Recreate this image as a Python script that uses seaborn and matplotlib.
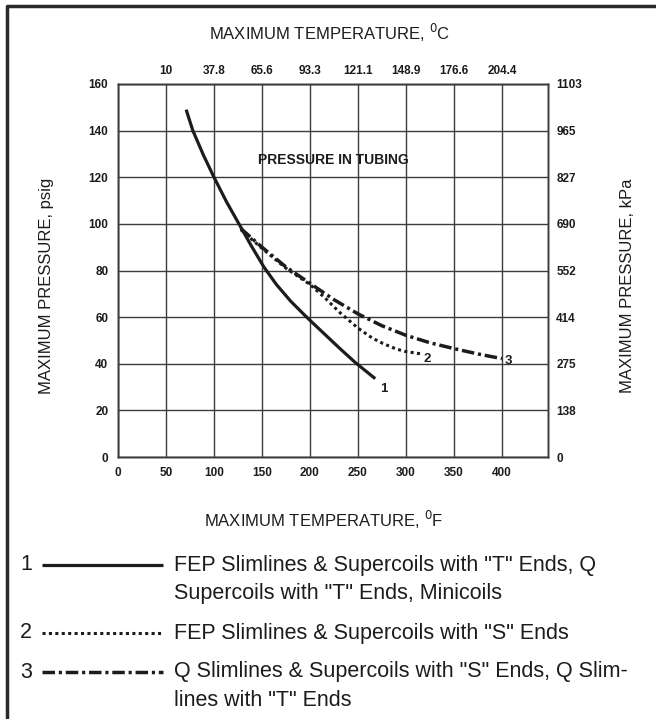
import numpy as np
import pandas as pd
import seaborn as sns
import matplotlib.pyplot as plt
from matplotlib.lines import Line2D

# --- data (temperature in F, pressure in psig) ---
temp_f_1 = [71, 78, 89, 100, 113, 126, 139, 152, 165, 180, 196, 215, 231, 247, 268]
psi_1 = [149, 140, 129.5, 120, 109.5, 100, 90.5, 81.5, 74, 66.8, 60.2, 52.8, 46.6, 40.6, 33.6]

temp_f_2 = [128, 150, 175, 200, 215, 231, 250, 265, 276, 290, 300, 315]
psi_2 = [97.5, 89.5, 81, 74, 68.5, 62, 55.3, 51, 48.7, 46.3, 45.2, 44.3]

temp_f_3 = [128, 150, 175, 200, 225, 250, 275, 300, 325, 350, 375, 400]
psi_3 = [98, 90, 81.5, 74.5, 67.5, 61.4, 56.3, 52.2, 49, 46.5, 44.2, 42.2]

temp_f_ticks = [0, 50, 100, 150, 200, 250, 300, 350, 400]
temp_c_labels = ["10", "37.8", "65.6", "93.3", "121.1", "148.9", "176.6", "204.4"]
psi_ticks = [0, 20, 40, 60, 80, 100, 120, 140, 160]
kpa_labels = ["0", "138", "275", "414", "552", "690", "827", "965", "1103"]

curve_ids = ["1", "2", "3"]
legend_lines = [
    ['FEP Slimlines & Supercoils with "T" Ends, Q', 'Supercoils with "T" Ends, Minicoils'],
    ['FEP Slimlines & Supercoils with "S" Ends'],
    ['Q Slimlines & Supercoils with "S" Ends, Q Slim-', 'lines with "T" Ends'],
]

sns.set_style("white")
plt.rcParams['font.family'] = ['Liberation Sans', 'DejaVu Sans']

ink = "#1c1c1c"
grid_c = "#3c3c3c"
dashdot = (0, (3.6, 1.1, 0.9, 1.1))
dotted = (0, (1, 1.1))
styles = [
    dict(linestyle="-", linewidth=2.3),
    dict(linestyle=dotted, linewidth=2.2),
    dict(linestyle=dashdot, linewidth=2.5),
]

W, H = 656, 719
fig = plt.figure(figsize=(W / 100, H / 100), dpi=100)
ax = fig.add_axes([118 / W, 1 - 457 / H, 430 / W, 373 / H])

df = pd.concat([
    pd.DataFrame({"temp": temp_f_1, "psi": psi_1, "curve": "1"}),
    pd.DataFrame({"temp": temp_f_2, "psi": psi_2, "curve": "2"}),
    pd.DataFrame({"temp": temp_f_3, "psi": psi_3, "curve": "3"}),
])

for cid, st in zip(curve_ids, styles):
    sub = df[df["curve"] == cid]
    sns.lineplot(data=sub, x="temp", y="psi", ax=ax, color=ink, estimator=None,
                 sort=False, solid_capstyle="butt", solid_joinstyle="round", **st)

ax.set_xlim(0, 448)
ax.set_ylim(0, 160)
ax.set_xticks(temp_f_ticks)
ax.set_xticklabels([str(t) for t in temp_f_ticks])
ax.set_yticks(psi_ticks)
ax.set_xlabel("")
ax.set_ylabel("")
ax.grid(True, color=grid_c, linewidth=1.0)
ax.tick_params(length=0, labelsize=8.5, pad=7, colors=ink)
for lab in ax.get_xticklabels() + ax.get_yticklabels():
    lab.set_fontweight("bold")
for sp in ax.spines.values():
    sp.set_color(grid_c)
    sp.set_linewidth(1.0)

# top axis in Celsius
ax_top = ax.twiny()
ax_top.set_xlim(ax.get_xlim())
ax_top.set_xticks(temp_f_ticks[1:])
ax_top.set_xticklabels(temp_c_labels, fontweight="bold")
ax_top.tick_params(length=0, labelsize=8.5, pad=5, colors=ink)

# right axis in kPa
ax_r = ax.twinx()
ax_r.set_ylim(ax.get_ylim())
ax_r.set_yticks(psi_ticks)
ax_r.set_yticklabels(kpa_labels, fontweight="bold")
ax_r.tick_params(length=0, labelsize=8.5, pad=6, colors=ink)
for a in (ax_top, ax_r):
    for sp in a.spines.values():
        sp.set_color(grid_c)
        sp.set_linewidth(1.0)

# curve labels
ax.text(277, 29, "1", fontsize=9.5, fontweight="bold", color=ink, ha="center", va="center")
ax.text(322, 42, "2", fontsize=9.5, fontweight="bold", color=ink, ha="center", va="center")
ax.text(407, 41, "3", fontsize=9.5, fontweight="bold", color=ink, ha="center", va="center")
ax.text(146, 127.5, "PRESSURE IN TUBING", fontsize=10, fontweight="bold", color=ink,
        ha="left", va="center")

# axis titles
fig.text(330 / W, 1 - 33 / H, "MAXIMUM TEMPERATURE, $^0$C", fontsize=12, color=ink,
         ha="center", va="center")
fig.text(324 / W, 1 - 520 / H, "MAXIMUM TEMPERATURE, $^0$F", fontsize=12, color=ink,
         ha="center", va="center")
fig.text(47 / W, 1 - 286 / H, "MAXIMUM PRESSURE, psig", fontsize=12, color=ink,
         rotation=90, ha="center", va="center")
fig.text(627 / W, 1 - 286 / H, "MAXIMUM PRESSURE, kPa", fontsize=12, color=ink,
         rotation=90, ha="center", va="center")

# legend block under the chart
row_y = [565, 633, 672]
line_gap = 29
for cid, st, y, lines in zip(curve_ids, styles, row_y, legend_lines):
    fy = 1 - y / H
    fig.text(20 / W, fy, cid, fontsize=15.5, color=ink, ha="left", va="center")
    fig.add_artist(Line2D([42 / W, 163 / W], [fy, fy], transform=fig.transFigure,
                          color=ink, solid_capstyle="butt", **st))
    for i, txt in enumerate(lines):
        fig.text(174 / W, 1 - (y + i * line_gap) / H, txt, fontsize=15.5, color=ink,
                 ha="left", va="center")

# outer frame (top and left edges)
fig.add_artist(Line2D([7 / W, 7 / W, 1], [0, 1 - 6 / H, 1 - 6 / H],
                      transform=fig.transFigure, color="#2a2a2a", linewidth=2.5))

fig.savefig("out.png", dpi=100)
